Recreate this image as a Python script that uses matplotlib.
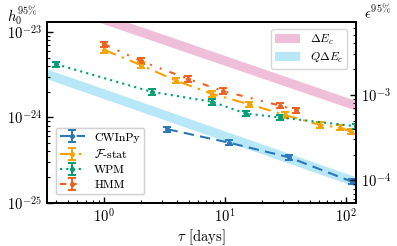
import numpy as np
import matplotlib
matplotlib.use("Agg")
import matplotlib.pyplot as plt

plt.rcParams.update({
    "font.family": "serif",
    "font.serif": ["cmr10", "DejaVu Serif"],
    "mathtext.fontset": "cm",
    "axes.formatter.use_mathtext": True,
    "axes.unicode_minus": True,
    "xtick.direction": "in",
    "ytick.direction": "in",
})

# ---- data
tau_cwinpy = [3.33, 10.75, 33.7, 112.0]
h_cwinpy = [7.28e-25, 5.07e-25, 3.42e-25, 1.77e-25]

tau_fstat = [1.0, 2.0, 3.9, 7.84, 15.7, 31.0, 61.0, 89.0, 110.0]
h_fstat = [6.16e-24, 4.11e-24, 2.70e-24, 1.88e-24, 1.43e-24, 1.07e-24,
           8.17e-25, 7.6e-25, 6.82e-25]

tau_wpm = [0.40, 2.47, 7.84, 14.8, 28.2, 120.0]
h_wpm = [4.19e-24, 1.99e-24, 1.52e-24, 1.11e-24, 1.0e-24, 7.9e-25]

tau_hmm = [1.0, 2.0, 4.93, 9.6, 28.6, 38.3]
h_hmm = [7.18e-24, 4.58e-24, 2.82e-24, 2.04e-24, 1.37e-24, 1.22e-24]

err_frac = 0.07

# theoretical bands (straight lines in log-log)
tau_band = [0.335, 121.0]
de_lo = [2.10e-23, 1.21e-24]
de_hi = [2.75e-23, 1.57e-24]
qde_lo = [2.83e-24, 1.55e-25]
qde_hi = [3.69e-24, 2.02e-25]

eps_per_h = 5.43e20

C_CW, C_F, C_W, C_H = "#2a78b8", "#f5a300", "#009e73", "#f0601e"

fig = plt.figure(figsize=(3.97, 2.46), dpi=100)
ax = fig.add_axes([0.118, 0.175, 0.779, 0.736])

ax.fill_between(tau_band, de_lo, de_hi, color="#eaa8cc", alpha=0.75, lw=0,
                label=r"$\Delta E_c$")
ax.fill_between(tau_band, qde_lo, qde_hi, color="#92dbf3", alpha=0.65, lw=0,
                label=r"$Q\Delta E_c$")

kw = dict(marker="o", ms=2.6, capsize=3.0, capthick=1.4, elinewidth=1.4, lw=1.5)
series = [
    (tau_cwinpy, h_cwinpy, C_CW, (0, (5, 3)), "CWInPy"),
    (tau_fstat, h_fstat, C_F, (0, (6, 3, 1.2, 3)), r"$\mathcal{F}$-stat"),
    (tau_wpm, h_wpm, C_W, (0, (1, 2)), "WPM"),
    (tau_hmm, h_hmm, C_H, (0, (3, 4, 1, 4, 1, 4)), "HMM"),
]
handles = []
for t, h, c, ls, lab in series:
    h = np.array(h)
    eb = ax.errorbar(t, h, yerr=err_frac * h, color=c, ls=ls, label=lab, **kw)
    handles.append(eb)

ax.set_xscale("log")
ax.set_yscale("log")
ax.set_xlim(0.335, 121)
ax.set_ylim(1e-25, 1.31e-23)
ax.tick_params(labelsize=10.5, which="major", length=4.5, width=1.0)
ax.tick_params(which="minor", length=2.5, width=0.8)
for s in ax.spines.values():
    s.set_linewidth(1.3)

ax.set_xlabel(r"$\tau$ [days]", fontsize=10.5, labelpad=1)

ax2 = ax.twinx()
ax2.set_yscale("log")
ax2.set_ylim(1e-25 * eps_per_h, 1.31e-23 * eps_per_h)
ax2.tick_params(labelsize=10.5, which="major", length=4.5, width=1.0)
ax2.tick_params(which="minor", length=2.5, width=0.8)
for s in ax2.spines.values():
    s.set_linewidth(1.3)

# axis titles sit above the two y axes
fig.text(0.057, 0.912, r"$h_0^{95\%}$", fontsize=10.5, ha="center", va="baseline")
fig.text(0.950, 0.928, r"$\epsilon^{95\%}$", fontsize=10.5, ha="center", va="baseline")

leg1 = ax.legend(handles=handles, loc="lower left", fontsize=8.5,
                 bbox_to_anchor=(0.01, 0.015), handlelength=2.1,
                 labelspacing=0.4, borderpad=0.35, fancybox=True)
ax.add_artist(leg1)
bands = ax.get_legend_handles_labels()
ax2.legend(bands[0][:2], bands[1][:2], loc="upper right", fontsize=8.5,
           bbox_to_anchor=(0.99, 0.995), handlelength=2.1, handleheight=0.8,
           labelspacing=0.35, borderpad=0.35)

fig.savefig("out.png", dpi=100)
